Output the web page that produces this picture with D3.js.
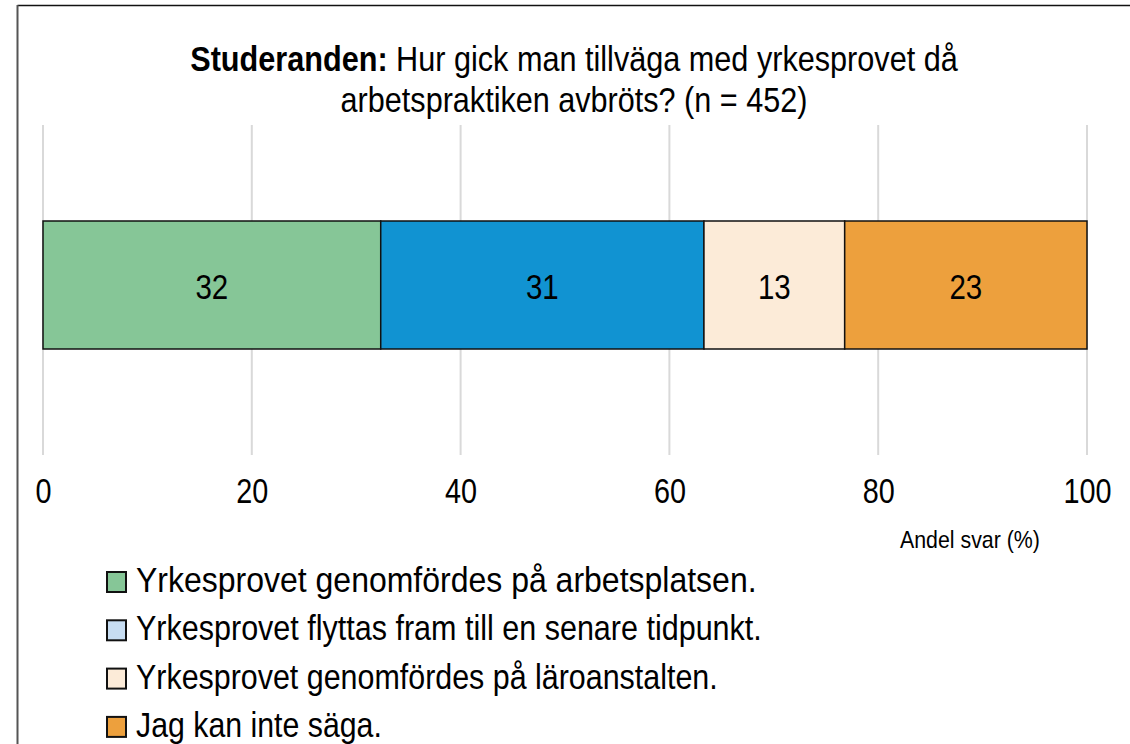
<!DOCTYPE html>
<html>
<head>
<meta charset="utf-8">
<script src="https://cdn.jsdelivr.net/npm/d3@7"></script>
<style>
  body { margin: 0; background: #fff; }
  svg text { font-family: "Liberation Sans Narrow", "Arial Narrow", "Liberation Sans", Arial, sans-serif; }
</style>
</head>
<body>
<div id="chart"></div>
<script>
// data
const categories = [
  "Yrkesprovet genomfördes på arbetsplatsen.",
  "Yrkesprovet flyttas fram till en senare tidpunkt.",
  "Yrkesprovet genomfördes på läroanstalten.",
  "Jag kan inte säga."
];
const values = [32.35, 30.96, 13.48, 23.21];
const barColors = ["#86c697", "#1193d2", "#fcebd8", "#eda03d"];
const legendColors = ["#86c697", "#c7ddf2", "#fcebd8", "#eda03d"];
const xTicks = [0, 20, 40, 60, 80, 100];

const width = 1130;
const height = 744;

// the reference uses a narrow font, so squeeze text horizontally
function squeeze(sel, k) {
  const x0 = +sel.attr("x") || 0;
  sel.attr("transform", `translate(${x0},0) scale(${k},1) translate(${-x0},0)`);
}
function fit(sel, target) {
  const w = sel.node().getComputedTextLength();
  squeeze(sel, target / w);
}

const svg = d3.select("#chart")
  .append("svg")
  .attr("width", width)
  .attr("height", height)
  .attr("viewBox", `0 0 ${width} ${height}`);

// frame
svg.append("line")
  .attr("x1", 17.5).attr("x2", width)
  .attr("y1", 5.5).attr("y2", 5.5)
  .attr("stroke", "#111").attr("stroke-width", 1.5);
svg.append("line")
  .attr("x1", 17.5).attr("x2", 17.5)
  .attr("y1", 5).attr("y2", height)
  .attr("stroke", "#555").attr("stroke-width", 2);

// title
const title1 = svg.append("text")
  .attr("x", 574)
  .attr("y", 71)
  .attr("text-anchor", "middle")
  .attr("font-size", "35px")
  .attr("fill", "#000");
title1.append("tspan").attr("font-weight", "bold").text("Studeranden:");
title1.append("tspan").text(" Hur gick man tillväga med yrkesprovet då");
fit(title1, 768);

const title2 = svg.append("text")
  .attr("x", 574)
  .attr("y", 112)
  .attr("text-anchor", "middle")
  .attr("font-size", "35px")
  .attr("fill", "#000")
  .text("arbetspraktiken avbröts? (n = 452)");
fit(title2, 467);

const x = d3.scaleLinear().domain([0, 100]).range([43, 1087]);

// gridlines
svg.append("g")
  .selectAll("line")
  .data(xTicks)
  .join("line")
  .attr("x1", d => x(d))
  .attr("x2", d => x(d))
  .attr("y1", 125)
  .attr("y2", 455)
  .attr("stroke", "#d9d9d9")
  .attr("stroke-width", 2);

// stacked bar
let acc = 0;
const segments = values.map((v, i) => {
  const s = { start: acc, end: acc + v, value: v, color: barColors[i] };
  acc += v;
  return s;
});

const barTop = 221;
const barHeight = 128;

svg.append("g")
  .selectAll("rect")
  .data(segments)
  .join("rect")
  .attr("x", d => x(d.start))
  .attr("y", barTop)
  .attr("width", d => x(d.end) - x(d.start))
  .attr("height", barHeight)
  .attr("fill", d => d.color)
  .attr("stroke", "#111")
  .attr("stroke-width", 1.5);

svg.append("g")
  .selectAll("text")
  .data(segments)
  .join("text")
  .attr("x", d => (x(d.start) + x(d.end)) / 2)
  .attr("y", 299)
  .attr("text-anchor", "middle")
  .attr("font-size", "36px")
  .attr("fill", "#000")
  .text(d => Math.round(d.value))
  .each(function () { squeeze(d3.select(this), 0.82); });

// x axis
const xAxis = d3.axisBottom(x)
  .tickValues(xTicks)
  .tickSize(0)
  .tickPadding(0);

const axisG = svg.append("g")
  .attr("transform", "translate(0,503)")
  .call(xAxis);
axisG.select(".domain").remove();
axisG.selectAll("text")
  .attr("dy", null)
  .attr("y", 0)
  .attr("font-size", "36px")
  .attr("font-family", null)
  .attr("fill", "#000")
  .attr("transform", "scale(0.8,1)");

const axisTitle = svg.append("text")
  .attr("x", 970)
  .attr("y", 548)
  .attr("text-anchor", "middle")
  .attr("font-size", "24px")
  .attr("fill", "#000")
  .text("Andel svar (%)");
fit(axisTitle, 140);

// legend
const legendWidths = [621, 626, 582, 246];
const legend = svg.append("g").attr("class", "legend");
categories.forEach((cat, i) => {
  const base = 592 + i * 48.3;
  legend.append("rect")
    .attr("x", 107)
    .attr("y", base - 20)
    .attr("width", 19)
    .attr("height", 20)
    .attr("fill", legendColors[i])
    .attr("stroke", "#111")
    .attr("stroke-width", 2);
  const t = legend.append("text")
    .attr("x", 136)
    .attr("y", base)
    .attr("font-size", "35px")
    .attr("fill", "#000")
    .text(cat);
  fit(t, legendWidths[i]);
});
</script>
</body>
</html>
